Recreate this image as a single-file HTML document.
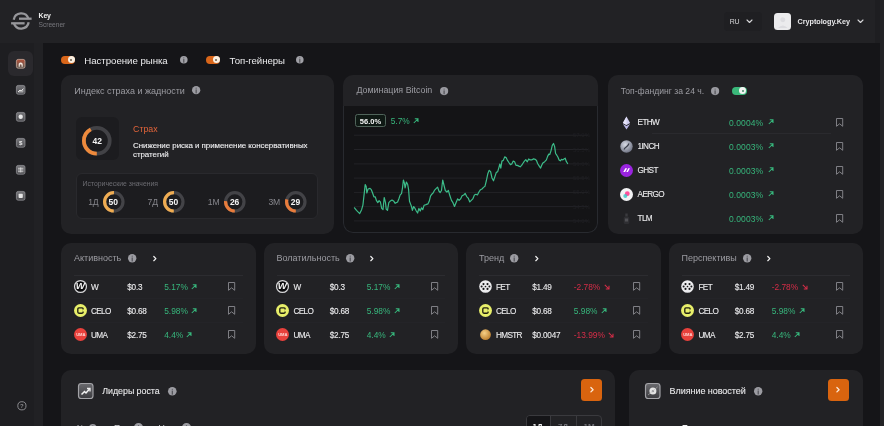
<!DOCTYPE html><html><head><meta charset="utf-8"><style>html,body{margin:0;padding:0;width:884px;height:426px;overflow:hidden;background:#151518;}body{position:relative;font-family:"Liberation Sans", "DejaVu Sans", sans-serif;}.t{position:absolute;white-space:nowrap;line-height:1;}.m{-webkit-text-stroke:0.1px currentColor;}svg{overflow:visible}</style></head><body>
<div style="position:absolute;left:0.00px;top:0.00px;width:884.00px;height:43.00px;background:#222225"></div>
<div style="position:absolute;left:0.00px;top:43.00px;width:43.30px;height:383.00px;background:#1e1e21"></div>
<div style="position:absolute;left:33.80px;top:43.00px;width:9.50px;height:383.00px;background:#212124"></div>
<div style="position:absolute;left:874.60px;top:0.00px;width:5.00px;height:43.00px;background:#1e1e21"></div>
<div style="position:absolute;left:879.50px;top:0.00px;width:4.50px;height:426.00px;background:#232326"></div>
<svg style="position:absolute;left:10.00px;top:10.00px;" width="24" height="24" viewBox="0 0 24 24"><g fill="none" stroke="#97979b" stroke-width="2.3" stroke-linecap="butt"><path d="M3.72 9.68 A7.6 7.6 0 0 1 18.43 8.65"/><path d="M9.0 8.7 H21.6"/><path d="M18.68 12.32 A7.6 7.6 0 0 1 3.97 13.35"/><path d="M1.1 13.3 H14.6"/></g></svg>
<div class="t" style="left:38.50px;top:13.05px;font-size:6.9px;color:#f0f0f0;font-weight:700;letter-spacing:-0.1px;">Key</div>
<div class="t" style="left:38.50px;top:21.85px;font-size:6.7px;color:#76767c;font-weight:400;letter-spacing:-0.05px;">Screener</div>
<div style="position:absolute;left:723.50px;top:12.00px;width:38.50px;height:19.40px;background:#1f1f22;border-radius:4px"></div>
<div class="t" style="left:729.70px;top:18.10px;font-size:7px;color:#d6d6d8;font-weight:400;letter-spacing:-0.35px;">RU</div>
<svg style="position:absolute;left:745.50px;top:18.55px;" width="7" height="4.5" viewBox="0 0 7 4.5"><path d="M1 1 L3.5 3.5 L6 1" fill="none" stroke="#d6d6d8" stroke-width="1.1" stroke-linecap="round" stroke-linejoin="round"/></svg>
<div style="position:absolute;left:773.70px;top:12.50px;width:17.60px;height:17.60px;background:#ebebed;border-radius:3.5px"></div>
<svg style="position:absolute;left:773.70px;top:12.50px;" width="17.6" height="17.6" viewBox="0 0 17.6 17.6"><circle cx="8.8" cy="6.8" r="2.5" fill="#dcdce0"/><path d="M4 15 Q8.8 10 13.6 15 Z" fill="#dcdce0"/></svg>
<div class="t" style="left:797.60px;top:18.18px;font-size:7.25px;color:#e6e6e8;font-weight:700;letter-spacing:-0.05px;">Cryptology.Key</div>
<svg style="position:absolute;left:856.50px;top:18.55px;" width="7" height="4.5" viewBox="0 0 7 4.5"><path d="M1 1 L3.5 3.5 L6 1" fill="none" stroke="#d6d6d8" stroke-width="1.1" stroke-linecap="round" stroke-linejoin="round"/></svg>
<div style="position:absolute;left:8.10px;top:51.20px;width:24.80px;height:25.00px;background:#2a292d;border-radius:6px"></div>
<svg style="position:absolute;left:16.40px;top:58.90px;" width="9.4" height="9.6" viewBox="0 0 9.4 9.6"><defs><linearGradient id="g63" x1="0" y1="0" x2="0" y2="1"><stop offset="0" stop-color="#b4523a"/><stop offset="1" stop-color="#5c5a54"/></linearGradient></defs><rect x="0.4" y="0.4" width="8.6" height="8.8" rx="1.8" fill="url(#g63)" stroke="#d8b8a8" stroke-width="0.7"/><path d="M2.7 7.8 V4.8 Q4.7 2.4 6.7 4.8 V7.8 H5.6 V5.8 Q4.7 4.6 3.8 5.8 V7.8 Z" fill="#f4ece4"/></svg>
<svg style="position:absolute;left:16.40px;top:85.20px;" width="9.4" height="9.6" viewBox="0 0 9.4 9.6"><defs><linearGradient id="g90" x1="0" y1="0" x2="0" y2="1"><stop offset="0" stop-color="#77777b"/><stop offset="1" stop-color="#4c4c50"/></linearGradient></defs><rect x="0.4" y="0.4" width="8.6" height="8.8" rx="1.8" fill="url(#g90)" stroke="#9a9a9e" stroke-width="0.7"/><path d="M2 7 L4 5 L5.2 6 L7.4 3.6" fill="none" stroke="#eee" stroke-width="1"/><path d="M2 7.6 L4 5.6 L5.2 6.6 L7.4 4.2 V7.6 Z" fill="#ddd" opacity="0.6"/></svg>
<svg style="position:absolute;left:16.40px;top:111.70px;" width="9.4" height="9.6" viewBox="0 0 9.4 9.6"><defs><linearGradient id="g116" x1="0" y1="0" x2="0" y2="1"><stop offset="0" stop-color="#77777b"/><stop offset="1" stop-color="#4c4c50"/></linearGradient></defs><rect x="0.4" y="0.4" width="8.6" height="8.8" rx="1.8" fill="url(#g116)" stroke="#9a9a9e" stroke-width="0.7"/><circle cx="4.7" cy="4.8" r="2.2" fill="#e6e6e6"/></svg>
<svg style="position:absolute;left:16.40px;top:138.20px;" width="9.4" height="9.6" viewBox="0 0 9.4 9.6"><defs><linearGradient id="g143" x1="0" y1="0" x2="0" y2="1"><stop offset="0" stop-color="#77777b"/><stop offset="1" stop-color="#4c4c50"/></linearGradient></defs><rect x="0.4" y="0.4" width="8.6" height="8.8" rx="1.8" fill="url(#g143)" stroke="#9a9a9e" stroke-width="0.7"/><text x="4.7" y="7.4" text-anchor="middle" font-family="Liberation Sans" font-weight="700" font-size="6.2" fill="#eee">$</text></svg>
<svg style="position:absolute;left:16.40px;top:164.70px;" width="9.4" height="9.6" viewBox="0 0 9.4 9.6"><defs><linearGradient id="g169" x1="0" y1="0" x2="0" y2="1"><stop offset="0" stop-color="#77777b"/><stop offset="1" stop-color="#4c4c50"/></linearGradient></defs><rect x="0.4" y="0.4" width="8.6" height="8.8" rx="1.8" fill="url(#g169)" stroke="#9a9a9e" stroke-width="0.7"/><path d="M2 3.3 H7.4 M2 5 H7.4 M2 6.7 H7.4 M4.7 2.4 V7.4" stroke="#e0e0e0" stroke-width="0.8"/></svg>
<svg style="position:absolute;left:16.40px;top:191.20px;" width="9.4" height="9.6" viewBox="0 0 9.4 9.6"><defs><linearGradient id="g196" x1="0" y1="0" x2="0" y2="1"><stop offset="0" stop-color="#77777b"/><stop offset="1" stop-color="#4c4c50"/></linearGradient></defs><rect x="0.4" y="0.4" width="8.6" height="8.8" rx="1.8" fill="url(#g196)" stroke="#9a9a9e" stroke-width="0.7"/><rect x="2.6" y="2.8" width="4.2" height="4.2" rx="0.8" fill="#e6e6e6"/></svg>
<svg style="position:absolute;left:16.50px;top:401.40px;" width="10" height="10" viewBox="0 0 10 10"><circle cx="4.9" cy="4.8" r="4.1" fill="none" stroke="#8a8a8e" stroke-width="1"/><text x="4.9" y="7" text-anchor="middle" font-family="Liberation Sans" font-weight="700" font-size="6" fill="#8a8a8e">?</text></svg>
<div style="position:absolute;left:60.80px;top:55.90px;width:14.30px;height:7.80px;background:#d9661a;border-radius:3.9px"></div>
<div style="position:absolute;left:67.55px;top:56.15px;width:7.30px;height:7.30px;background:#f8efe2;border-radius:50%"></div>
<div style="position:absolute;left:70.10px;top:58.70px;width:2.20px;height:2.20px;background:#6a5a48;border-radius:50%"></div>
<div class="t" style="left:84.30px;top:55.55px;font-size:9.7px;color:#ececee;font-weight:400;letter-spacing:-0.05px;">Настроение рынка</div>
<svg style="position:absolute;left:178.80px;top:54.60px;" width="9.6" height="9.6" viewBox="0 0 9.6 9.6"><circle cx="4.8" cy="4.8" r="3.8" fill="#a0a0a6"/><rect x="4.25" y="4.1" width="1.1" height="3.61" fill="#4a4a50"/><circle cx="4.8" cy="2.8" r="0.6" fill="#5a5a60"/></svg>
<div style="position:absolute;left:205.90px;top:55.90px;width:14.30px;height:7.80px;background:#d9661a;border-radius:3.9px"></div>
<div style="position:absolute;left:212.65px;top:56.15px;width:7.30px;height:7.30px;background:#f8efe2;border-radius:50%"></div>
<div style="position:absolute;left:215.20px;top:58.70px;width:2.20px;height:2.20px;background:#6a5a48;border-radius:50%"></div>
<div class="t" style="left:229.60px;top:55.58px;font-size:9.65px;color:#ececee;font-weight:400;letter-spacing:-0.05px;">Топ-гейнеры</div>
<svg style="position:absolute;left:295.00px;top:54.60px;" width="9.6" height="9.6" viewBox="0 0 9.6 9.6"><circle cx="4.8" cy="4.8" r="3.8" fill="#a0a0a6"/><rect x="4.25" y="4.1" width="1.1" height="3.61" fill="#4a4a50"/><circle cx="4.8" cy="2.8" r="0.6" fill="#5a5a60"/></svg>
<div style="position:absolute;left:61.00px;top:75.00px;width:272.60px;height:158.50px;background:#222225;border-radius:10px"></div>
<div class="t" style="left:74.20px;top:86.60px;font-size:9px;color:#9c9ca2;font-weight:400;letter-spacing:0px;">Индекс страха и жадности</div>
<svg style="position:absolute;left:190.65px;top:85.35px;" width="10.3" height="10.3" viewBox="0 0 10.3 10.3"><circle cx="5.15" cy="5.15" r="4.15" fill="#9c9ca2"/><rect x="4.6000000000000005" y="4.45" width="1.1" height="3.94" fill="#4a4a50"/><circle cx="5.15" cy="3.1500000000000004" r="0.6" fill="#5a5a60"/></svg>
<div style="position:absolute;left:76.00px;top:117.30px;width:43.40px;height:42.70px;background:#1c1c1f;border-radius:6px"></div>
<svg style="position:absolute;left:81.40px;top:125.20px;" width="31.6" height="31.6" viewBox="0 0 31.6 31.6"><circle cx="15.8" cy="15.8" r="12.9" fill="none" stroke="#424246" stroke-width="3.8"/><circle cx="15.8" cy="15.8" r="12.9" fill="none" stroke="#ee8a3c" stroke-width="3.8" stroke-dasharray="34.04 81.05" transform="rotate(90 15.8 15.8)"/></svg>
<div class="t" style="left:92.45px;top:136.95px;font-size:8.5px;color:#f4f4f4;font-weight:700;letter-spacing:0px;">42</div>
<div class="t" style="left:133.10px;top:125.20px;font-size:8.8px;color:#e2643a;font-weight:400;letter-spacing:0px;">Страх</div>
<div class="t m" style="left:133.00px;top:141.62px;font-size:7.95px;color:#f0f0f2;font-weight:400;letter-spacing:-0.05px;">Снижение риска и применение консервативных</div>
<div class="t m" style="left:133.00px;top:151.03px;font-size:7.95px;color:#f0f0f2;font-weight:400;letter-spacing:-0.05px;">стратегий</div>
<div style="position:absolute;left:75.80px;top:172.90px;width:242.40px;height:46.00px;background:#1c1c1f;border:1px solid #29292d;border-radius:6px;box-sizing:border-box"></div>
<div class="t" style="left:82.60px;top:181.38px;font-size:6.85px;color:#6c6c72;font-weight:400;letter-spacing:0px;">Исторические значения</div>
<div class="t" style="left:88.20px;top:198.30px;font-size:8.6px;color:#86868c;font-weight:400;letter-spacing:-0.2px;">1Д</div>
<svg style="position:absolute;left:101.50px;top:190.00px;" width="23.599999999999998" height="23.599999999999998" viewBox="0 0 23.599999999999998 23.599999999999998"><circle cx="11.799999999999999" cy="11.799999999999999" r="9.2" fill="none" stroke="#434347" stroke-width="3.2"/><circle cx="11.799999999999999" cy="11.799999999999999" r="9.2" fill="none" stroke="#efac52" stroke-width="3.2" stroke-dasharray="28.90 57.81" transform="rotate(90 11.799999999999999 11.799999999999999)"/></svg>
<div class="t" style="left:108.60px;top:197.55px;font-size:8.5px;color:#f4f4f4;font-weight:700;letter-spacing:0px;">50</div>
<div class="t" style="left:147.60px;top:198.30px;font-size:8.6px;color:#86868c;font-weight:400;letter-spacing:-0.2px;">7Д</div>
<svg style="position:absolute;left:161.70px;top:190.00px;" width="23.599999999999998" height="23.599999999999998" viewBox="0 0 23.599999999999998 23.599999999999998"><circle cx="11.799999999999999" cy="11.799999999999999" r="9.2" fill="none" stroke="#434347" stroke-width="3.2"/><circle cx="11.799999999999999" cy="11.799999999999999" r="9.2" fill="none" stroke="#efac52" stroke-width="3.2" stroke-dasharray="28.90 57.81" transform="rotate(90 11.799999999999999 11.799999999999999)"/></svg>
<div class="t" style="left:168.80px;top:197.55px;font-size:8.5px;color:#f4f4f4;font-weight:700;letter-spacing:0px;">50</div>
<div class="t" style="left:207.80px;top:198.30px;font-size:8.6px;color:#86868c;font-weight:400;letter-spacing:-0.2px;">1M</div>
<svg style="position:absolute;left:222.80px;top:190.00px;" width="23.599999999999998" height="23.599999999999998" viewBox="0 0 23.599999999999998 23.599999999999998"><circle cx="11.799999999999999" cy="11.799999999999999" r="9.2" fill="none" stroke="#434347" stroke-width="3.2"/><circle cx="11.799999999999999" cy="11.799999999999999" r="9.2" fill="none" stroke="#e87c3c" stroke-width="3.2" stroke-dasharray="15.03 57.81" transform="rotate(90 11.799999999999999 11.799999999999999)"/></svg>
<div class="t" style="left:229.90px;top:197.55px;font-size:8.5px;color:#f4f4f4;font-weight:700;letter-spacing:0px;">26</div>
<div class="t" style="left:268.40px;top:198.30px;font-size:8.6px;color:#86868c;font-weight:400;letter-spacing:-0.2px;">3M</div>
<svg style="position:absolute;left:283.70px;top:190.00px;" width="23.599999999999998" height="23.599999999999998" viewBox="0 0 23.599999999999998 23.599999999999998"><circle cx="11.799999999999999" cy="11.799999999999999" r="9.2" fill="none" stroke="#434347" stroke-width="3.2"/><circle cx="11.799999999999999" cy="11.799999999999999" r="9.2" fill="none" stroke="#e87c3c" stroke-width="3.2" stroke-dasharray="16.76 57.81" transform="rotate(90 11.799999999999999 11.799999999999999)"/></svg>
<div class="t" style="left:290.80px;top:197.55px;font-size:8.5px;color:#f4f4f4;font-weight:700;letter-spacing:0px;">29</div>
<div style="position:absolute;left:342.5px;top:75px;width:255.5px;height:158.5px;border-radius:10px;overflow:hidden">
<div style="position:absolute;left:0;top:0;width:100%;height:30.6px;background:#222225"></div>
<div style="position:absolute;left:0;top:30.6px;width:100%;height:127.9px;background:#141416;border:1px solid #282a2f;border-top:none;border-radius:0 0 10px 10px;box-sizing:border-box"></div>
</div>
<div class="t" style="left:356.40px;top:86.45px;font-size:8.9px;color:#9c9ca2;font-weight:400;letter-spacing:0px;">Доминация Bitcoin</div>
<svg style="position:absolute;left:438.80px;top:85.50px;" width="10.2" height="10.2" viewBox="0 0 10.2 10.2"><circle cx="5.1" cy="5.1" r="4.1" fill="#9c9ca2"/><rect x="4.55" y="4.3999999999999995" width="1.1" height="3.89" fill="#4a4a50"/><circle cx="5.1" cy="3.0999999999999996" r="0.6" fill="#5a5a60"/></svg>
<div style="position:absolute;left:355.00px;top:114.30px;width:30.70px;height:12.70px;background:#0f1914;border:1px solid #50645a;border-radius:2.5px;box-sizing:border-box"></div>
<div class="t" style="left:359.80px;top:117.55px;font-size:7.5px;color:#f4f4f4;font-weight:700;letter-spacing:0px;">56.0%</div>
<div class="t" style="left:390.70px;top:116.62px;font-size:8.35px;color:#37b67c;font-weight:400;letter-spacing:0px;">5.7%</div>
<svg style="position:absolute;left:412.90px;top:117.60px;" width="5.8" height="5.8" viewBox="0 0 5.8 5.8"><path d="M0.8 5.0 L5.0 0.8 M1.8 0.8 H5.0 V4.0" fill="none" stroke="#37b67c" stroke-width="1.05"/></svg>
<svg style="position:absolute;left:0;top:0" width="884" height="426" viewBox="0 0 884 426"><line x1="354" y1="135.2" x2="588" y2="135.2" stroke="#232327" stroke-width="1"/><line x1="354" y1="149.5" x2="588" y2="149.5" stroke="#232327" stroke-width="1"/><line x1="354" y1="163.9" x2="588" y2="163.9" stroke="#232327" stroke-width="1"/><line x1="354" y1="178.1" x2="588" y2="178.1" stroke="#232327" stroke-width="1"/><line x1="354" y1="192.4" x2="588" y2="192.4" stroke="#232327" stroke-width="1"/><line x1="354" y1="206.6" x2="588" y2="206.6" stroke="#232327" stroke-width="1"/><line x1="354" y1="220.9" x2="588" y2="220.9" stroke="#232327" stroke-width="1"/><text x="573" y="137.2" font-family="Liberation Sans" font-size="6" fill="#1f1f23">57.0%</text><text x="573" y="151.5" font-family="Liberation Sans" font-size="6" fill="#1f1f23">56.5%</text><text x="573" y="165.9" font-family="Liberation Sans" font-size="6" fill="#1f1f23">56.0%</text><text x="573" y="180.1" font-family="Liberation Sans" font-size="6" fill="#1f1f23">55.5%</text><text x="573" y="194.4" font-family="Liberation Sans" font-size="6" fill="#1f1f23">55.0%</text><text x="573" y="208.6" font-family="Liberation Sans" font-size="6" fill="#1f1f23">54.5%</text><text x="573" y="222.9" font-family="Liberation Sans" font-size="6" fill="#1f1f23">54.0%</text><path d="M354.5 207.8 L356.5 210.4 L359.7 213.6 L361.6 209.7 L362.9 205.2 L364.2 193.6 L365.2 184.5 L366.2 186.5 L366.8 193.0 L368.1 189.0 L370.0 188.4 L371.3 189.7 L372.6 193.0 L373.9 196.8 L375.2 196.8 L376.5 200.7 L377.8 202.6 L379.1 200.7 L380.4 202.0 L381.7 208.4 L383.0 209.7 L384.2 197.5 L385.5 202.6 L386.2 209.1 L387.5 210.4 L388.8 202.6 L390.0 201.3 L392.0 200.0 L393.9 201.3 L395.2 203.3 L397.6 202.0 L398.9 198.8 L400.2 194.9 L401.5 193.6 L402.5 187.8 L403.4 180.0 L404.3 182.6 L405.1 187.8 L406.4 182.0 L407.7 184.5 L408.6 189.7 L409.5 201.3 L410.5 203.9 L411.5 206.5 L412.4 210.4 L413.7 206.5 L415.0 208.4 L416.3 211.0 L417.6 213.0 L418.9 208.4 L420.2 211.0 L421.5 207.8 L422.8 209.7 L424.1 205.2 L426.0 204.6 L427.9 203.9 L429.2 201.3 L430.5 196.2 L431.8 194.2 L433.1 193.0 L434.4 190.4 L436.3 188.4 L437.6 187.1 L438.9 191.0 L440.2 192.5 L441.5 190.5 L442.7 180.0 L443.8 184.5 L445.3 190.5 L446.9 192.0 L448.4 190.5 L449.9 195.8 L451.5 200.4 L453.0 202.7 L454.5 206.5 L456.0 202.7 L457.6 198.9 L459.1 200.4 L460.6 198.9 L462.1 195.8 L463.7 195.0 L465.2 193.5 L466.7 196.6 L468.2 198.1 L469.8 201.9 L471.3 200.4 L472.8 198.9 L474.4 195.0 L475.9 194.3 L477.4 195.0 L478.9 192.0 L480.5 189.7 L482.0 189.0 L483.5 187.4 L485.0 186.2 L486.4 180.5 L487.8 173.8 L489.2 170.3 L490.6 171.7 L492.0 178.0 L493.5 180.8 L494.9 176.6 L496.3 172.4 L497.7 171.7 L499.1 166.8 L499.8 164.0 L500.8 168.2 L501.9 161.1 L503.3 160.4 L504.7 156.9 L506.1 157.6 L507.5 160.4 L508.9 162.5 L510.4 164.6 L511.8 163.9 L513.2 161.1 L514.6 161.8 L516.0 165.4 L517.4 165.4 L518.8 166.1 L520.2 166.8 L521.6 165.4 L523.0 163.2 L524.4 161.1 L525.8 159.7 L527.3 161.8 L528.7 159.0 L530.1 159.9 L531.8 159.9 L533.5 158.8 L535.3 159.3 L536.5 160.5 L537.6 163.5 L539.4 166.4 L540.6 168.1 L541.7 165.2 L542.9 162.9 L544.7 161.7 L546.4 159.9 L547.6 156.4 L548.8 154.1 L549.7 154.6 L550.9 151.1 L552.3 145.3 L553.5 143.5 L554.6 146.4 L555.6 153.5 L556.8 155.2 L557.9 157.0 L559.1 159.9 L560.3 160.8 L561.5 159.3 L562.9 159.9 L564.3 158.8 L565.2 158.2 L566.4 161.7 L567.6 163.5" fill="none" stroke="#3cbc89" stroke-width="1.2" stroke-linejoin="round" stroke-linecap="round"/></svg>
<div style="position:absolute;left:607.50px;top:75.00px;width:255.50px;height:158.50px;background:#222225;border-radius:10px"></div>
<div class="t" style="left:620.70px;top:86.70px;font-size:8.6px;color:#9c9ca2;font-weight:400;letter-spacing:0px;">Топ-фандинг за 24 ч.</div>
<svg style="position:absolute;left:710.00px;top:85.50px;" width="10.2" height="10.2" viewBox="0 0 10.2 10.2"><circle cx="5.1" cy="5.1" r="4.1" fill="#9c9ca2"/><rect x="4.55" y="4.3999999999999995" width="1.1" height="3.89" fill="#4a4a50"/><circle cx="5.1" cy="3.0999999999999996" r="0.6" fill="#5a5a60"/></svg>
<div style="position:absolute;left:732.40px;top:86.90px;width:14.30px;height:7.80px;background:#3ab87a;border-radius:3.9px"></div>
<div style="position:absolute;left:739.15px;top:87.15px;width:7.30px;height:7.30px;background:#f2f4f2;border-radius:50%"></div>
<div style="position:absolute;left:741.70px;top:89.70px;width:2.20px;height:2.20px;background:#4a8a6a;border-radius:50%"></div>
<div style="position:absolute;left:652.00px;top:133.00px;width:179.00px;height:1.00px;background:#2a2a2e"></div>
<svg style="position:absolute;left:620.20px;top:115.90px;" width="13" height="14" viewBox="0 0 13 14"><path d="M6.5 0.5 L10.1 7.1 L6.5 9.1 L2.9 7.1 Z" fill="#cfcdee"/><path d="M6.5 10.1 L10.1 8.1 L6.5 13.5 L2.9 8.1 Z" fill="#b9b6e6"/><path d="M6.5 0.5 L6.5 9.1 L2.9 7.1 Z" fill="#e6e4fa"/></svg>
<div class="t m" style="left:637.60px;top:119.30px;font-size:8.2px;color:#ececee;font-weight:400;letter-spacing:-0.65px;">ETHW</div>
<div class="t" style="left:729.00px;top:118.65px;font-size:8.5px;color:#37b67c;font-weight:400;letter-spacing:0.1px;">0.0004%</div>
<svg style="position:absolute;left:767.90px;top:119.40px;" width="5.8" height="5.8" viewBox="0 0 5.8 5.8"><path d="M0.8 5.0 L5.0 0.8 M1.8 0.8 H5.0 V4.0" fill="none" stroke="#37b67c" stroke-width="1.05"/></svg>
<svg style="position:absolute;left:835.00px;top:117.20px;" width="9.2" height="10.8" viewBox="0 0 9.2 10.8"><path d="M1.5 1.5 H7.7 V9.3 L4.6 6.808000000000001 L1.5 9.3 Z" fill="none" stroke="#85858b" stroke-width="0.95" stroke-linejoin="round"/></svg>
<svg style="position:absolute;left:620.20px;top:139.90px;" width="13" height="13" viewBox="0 0 13 13"><defs><radialGradient id="ig" cx="40%" cy="35%" r="70%"><stop offset="0" stop-color="#d8dce6"/><stop offset="1" stop-color="#6c7080"/></radialGradient></defs><circle cx="6.5" cy="6.5" r="6.2" fill="url(#ig)"/><path d="M4.0 9.5 C5.5 6.5 7.5 7.5 9.0 3.5" stroke="#3a3e4a" stroke-width="1.2" fill="none"/></svg>
<div class="t m" style="left:637.60px;top:143.30px;font-size:8.2px;color:#ececee;font-weight:400;letter-spacing:-0.65px;">1INCH</div>
<div class="t" style="left:729.00px;top:142.65px;font-size:8.5px;color:#37b67c;font-weight:400;letter-spacing:0.1px;">0.0003%</div>
<svg style="position:absolute;left:767.90px;top:143.40px;" width="5.8" height="5.8" viewBox="0 0 5.8 5.8"><path d="M0.8 5.0 L5.0 0.8 M1.8 0.8 H5.0 V4.0" fill="none" stroke="#37b67c" stroke-width="1.05"/></svg>
<svg style="position:absolute;left:835.00px;top:141.20px;" width="9.2" height="10.8" viewBox="0 0 9.2 10.8"><path d="M1.5 1.5 H7.7 V9.3 L4.6 6.808000000000001 L1.5 9.3 Z" fill="none" stroke="#85858b" stroke-width="0.95" stroke-linejoin="round"/></svg>
<svg style="position:absolute;left:620.20px;top:163.90px;" width="13" height="13" viewBox="0 0 13 13"><circle cx="6.5" cy="6.5" r="6.5" fill="#9a24e0"/><path d="M3.3 8.0 L5.3 4.3 H7.1 L5.1 8.0 Z M6.3 8.0 L8.3 4.3 H9.9 L7.9 8.0 Z" fill="#fff"/></svg>
<div class="t m" style="left:637.60px;top:167.30px;font-size:8.2px;color:#ececee;font-weight:400;letter-spacing:-0.65px;">GHST</div>
<div class="t" style="left:729.00px;top:166.65px;font-size:8.5px;color:#37b67c;font-weight:400;letter-spacing:0.1px;">0.0003%</div>
<svg style="position:absolute;left:767.90px;top:167.40px;" width="5.8" height="5.8" viewBox="0 0 5.8 5.8"><path d="M0.8 5.0 L5.0 0.8 M1.8 0.8 H5.0 V4.0" fill="none" stroke="#37b67c" stroke-width="1.05"/></svg>
<svg style="position:absolute;left:835.00px;top:165.20px;" width="9.2" height="10.8" viewBox="0 0 9.2 10.8"><path d="M1.5 1.5 H7.7 V9.3 L4.6 6.808000000000001 L1.5 9.3 Z" fill="none" stroke="#85858b" stroke-width="0.95" stroke-linejoin="round"/></svg>
<svg style="position:absolute;left:620.20px;top:187.90px;" width="13" height="13" viewBox="0 0 13 13"><circle cx="6.5" cy="6.5" r="6.5" fill="#f2f2f4"/><circle cx="7.3" cy="5.7" r="2.4" fill="#ff4f9a"/><circle cx="5.3" cy="7.9" r="2" fill="#31c4c4" opacity="0.8"/></svg>
<div class="t m" style="left:637.60px;top:191.30px;font-size:8.2px;color:#ececee;font-weight:400;letter-spacing:-0.65px;">AERGO</div>
<div class="t" style="left:729.00px;top:190.65px;font-size:8.5px;color:#37b67c;font-weight:400;letter-spacing:0.1px;">0.0003%</div>
<svg style="position:absolute;left:767.90px;top:191.40px;" width="5.8" height="5.8" viewBox="0 0 5.8 5.8"><path d="M0.8 5.0 L5.0 0.8 M1.8 0.8 H5.0 V4.0" fill="none" stroke="#37b67c" stroke-width="1.05"/></svg>
<svg style="position:absolute;left:835.00px;top:189.20px;" width="9.2" height="10.8" viewBox="0 0 9.2 10.8"><path d="M1.5 1.5 H7.7 V9.3 L4.6 6.808000000000001 L1.5 9.3 Z" fill="none" stroke="#85858b" stroke-width="0.95" stroke-linejoin="round"/></svg>
<svg style="position:absolute;left:620.20px;top:211.90px;" width="13" height="13" viewBox="0 0 13 13"><rect x="5.3" y="1.5" width="2.4" height="3" fill="#3a3a3e"/><rect x="3.7" y="4.5" width="5.6" height="7.5" rx="1.5" fill="#2e2e32"/><rect x="4.9" y="6.5" width="3.2" height="3" fill="#505055"/></svg>
<div class="t m" style="left:637.60px;top:215.30px;font-size:8.2px;color:#ececee;font-weight:400;letter-spacing:-0.65px;">TLM</div>
<div class="t" style="left:729.00px;top:214.65px;font-size:8.5px;color:#37b67c;font-weight:400;letter-spacing:0.1px;">0.0003%</div>
<svg style="position:absolute;left:767.90px;top:215.40px;" width="5.8" height="5.8" viewBox="0 0 5.8 5.8"><path d="M0.8 5.0 L5.0 0.8 M1.8 0.8 H5.0 V4.0" fill="none" stroke="#37b67c" stroke-width="1.05"/></svg>
<svg style="position:absolute;left:835.00px;top:213.20px;" width="9.2" height="10.8" viewBox="0 0 9.2 10.8"><path d="M1.5 1.5 H7.7 V9.3 L4.6 6.808000000000001 L1.5 9.3 Z" fill="none" stroke="#85858b" stroke-width="0.95" stroke-linejoin="round"/></svg>
<div style="position:absolute;left:61.00px;top:242.50px;width:194.50px;height:111.00px;background:#222225;border-radius:10px"></div>
<div class="t" style="left:74.00px;top:254.20px;font-size:9px;color:#9c9ca2;font-weight:400;letter-spacing:0px;">Активность</div>
<svg style="position:absolute;left:127.10px;top:253.20px;" width="10.4" height="10.4" viewBox="0 0 10.4 10.4"><circle cx="5.2" cy="5.2" r="4.2" fill="#9c9ca2"/><rect x="4.65" y="4.5" width="1.1" height="3.99" fill="#4a4a50"/><circle cx="5.2" cy="3.2" r="0.6" fill="#5a5a60"/></svg>
<svg style="position:absolute;left:151.50px;top:254.70px;" width="6.2" height="7.2" viewBox="0 0 6.2 7.2"><path d="M1.8 1.5 L3.9000000000000004 3.6 L1.8 5.7" fill="none" stroke="#f0f0f0" stroke-width="1.25" stroke-linecap="round" stroke-linejoin="round"/></svg>
<div style="position:absolute;left:74.00px;top:275.00px;width:168.50px;height:0.80px;background:#2c2c30"></div>
<svg style="position:absolute;left:73.70px;top:279.90px;" width="13" height="13" viewBox="0 0 13 13"><circle cx="6.5" cy="6.5" r="5.95" fill="#0a0a0c" stroke="#d8d8da" stroke-width="1.25"/><text x="6.4" y="9.4" text-anchor="middle" font-family="Liberation Sans" font-weight="700" font-style="italic" font-size="8.6" fill="#f6f6f6" transform="scale(1.12 1) translate(-0.8 0)">W</text></svg>
<div class="t m" style="left:91.00px;top:283.50px;font-size:8.2px;color:#ececee;font-weight:400;letter-spacing:-0.65px;">W</div>
<div class="t m" style="left:127.20px;top:283.50px;font-size:8.2px;color:#ececee;font-weight:400;letter-spacing:-0.2px;">$0.3</div>
<div class="t" style="left:164.20px;top:282.93px;font-size:8.35px;color:#37b67c;font-weight:400;letter-spacing:0px;">5.17%</div>
<svg style="position:absolute;left:191.20px;top:283.90px;" width="5.8" height="5.8" viewBox="0 0 5.8 5.8"><path d="M0.8 5.0 L5.0 0.8 M1.8 0.8 H5.0 V4.0" fill="none" stroke="#37b67c" stroke-width="1.05"/></svg>
<svg style="position:absolute;left:227.00px;top:281.40px;" width="9.2" height="10.8" viewBox="0 0 9.2 10.8"><path d="M1.5 1.5 H7.7 V9.3 L4.6 6.808000000000001 L1.5 9.3 Z" fill="none" stroke="#85858b" stroke-width="0.95" stroke-linejoin="round"/></svg>
<div style="position:absolute;left:74.00px;top:298.20px;width:168.50px;height:0.70px;background:#242428"></div>
<svg style="position:absolute;left:73.70px;top:303.90px;" width="13" height="13" viewBox="0 0 13 13"><circle cx="6.5" cy="6.5" r="6.5" fill="#e8ef6a"/><rect x="3.8" y="3.8" width="5.4" height="5.4" rx="1.1" fill="none" stroke="#202012" stroke-width="1.35"/><rect x="8.3" y="5.4" width="1.8" height="2.2" fill="#e8ef6a"/></svg>
<div class="t m" style="left:91.00px;top:307.50px;font-size:8.2px;color:#ececee;font-weight:400;letter-spacing:-0.65px;">CELO</div>
<div class="t m" style="left:127.20px;top:307.50px;font-size:8.2px;color:#ececee;font-weight:400;letter-spacing:-0.2px;">$0.68</div>
<div class="t" style="left:164.20px;top:306.93px;font-size:8.35px;color:#37b67c;font-weight:400;letter-spacing:0px;">5.98%</div>
<svg style="position:absolute;left:191.20px;top:307.90px;" width="5.8" height="5.8" viewBox="0 0 5.8 5.8"><path d="M0.8 5.0 L5.0 0.8 M1.8 0.8 H5.0 V4.0" fill="none" stroke="#37b67c" stroke-width="1.05"/></svg>
<svg style="position:absolute;left:227.00px;top:305.40px;" width="9.2" height="10.8" viewBox="0 0 9.2 10.8"><path d="M1.5 1.5 H7.7 V9.3 L4.6 6.808000000000001 L1.5 9.3 Z" fill="none" stroke="#85858b" stroke-width="0.95" stroke-linejoin="round"/></svg>
<div style="position:absolute;left:74.00px;top:322.20px;width:168.50px;height:0.70px;background:#242428"></div>
<svg style="position:absolute;left:73.70px;top:327.90px;" width="13" height="13" viewBox="0 0 13 13"><circle cx="6.5" cy="6.5" r="6.5" fill="#e8413c"/><text x="6.5" y="7.8" text-anchor="middle" font-family="Liberation Sans" font-weight="700" font-size="3.9" fill="#ffd8d4" transform="scale(1.05 1)">UMA</text></svg>
<div class="t m" style="left:91.00px;top:331.50px;font-size:8.2px;color:#ececee;font-weight:400;letter-spacing:-0.65px;">UMA</div>
<div class="t m" style="left:127.20px;top:331.50px;font-size:8.2px;color:#ececee;font-weight:400;letter-spacing:-0.2px;">$2.75</div>
<div class="t" style="left:164.20px;top:330.93px;font-size:8.35px;color:#37b67c;font-weight:400;letter-spacing:0px;">4.4%</div>
<svg style="position:absolute;left:186.40px;top:331.90px;" width="5.8" height="5.8" viewBox="0 0 5.8 5.8"><path d="M0.8 5.0 L5.0 0.8 M1.8 0.8 H5.0 V4.0" fill="none" stroke="#37b67c" stroke-width="1.05"/></svg>
<svg style="position:absolute;left:227.00px;top:329.40px;" width="9.2" height="10.8" viewBox="0 0 9.2 10.8"><path d="M1.5 1.5 H7.7 V9.3 L4.6 6.808000000000001 L1.5 9.3 Z" fill="none" stroke="#85858b" stroke-width="0.95" stroke-linejoin="round"/></svg>
<div style="position:absolute;left:263.50px;top:242.50px;width:194.50px;height:111.00px;background:#222225;border-radius:10px"></div>
<div class="t" style="left:276.50px;top:254.20px;font-size:9px;color:#9c9ca2;font-weight:400;letter-spacing:0px;">Волатильность</div>
<svg style="position:absolute;left:344.90px;top:253.20px;" width="10.4" height="10.4" viewBox="0 0 10.4 10.4"><circle cx="5.2" cy="5.2" r="4.2" fill="#9c9ca2"/><rect x="4.65" y="4.5" width="1.1" height="3.99" fill="#4a4a50"/><circle cx="5.2" cy="3.2" r="0.6" fill="#5a5a60"/></svg>
<svg style="position:absolute;left:369.30px;top:254.70px;" width="6.2" height="7.2" viewBox="0 0 6.2 7.2"><path d="M1.8 1.5 L3.9000000000000004 3.6 L1.8 5.7" fill="none" stroke="#f0f0f0" stroke-width="1.25" stroke-linecap="round" stroke-linejoin="round"/></svg>
<div style="position:absolute;left:276.50px;top:275.00px;width:168.50px;height:0.80px;background:#2c2c30"></div>
<svg style="position:absolute;left:276.20px;top:279.90px;" width="13" height="13" viewBox="0 0 13 13"><circle cx="6.5" cy="6.5" r="5.95" fill="#0a0a0c" stroke="#d8d8da" stroke-width="1.25"/><text x="6.4" y="9.4" text-anchor="middle" font-family="Liberation Sans" font-weight="700" font-style="italic" font-size="8.6" fill="#f6f6f6" transform="scale(1.12 1) translate(-0.8 0)">W</text></svg>
<div class="t m" style="left:293.50px;top:283.50px;font-size:8.2px;color:#ececee;font-weight:400;letter-spacing:-0.65px;">W</div>
<div class="t m" style="left:329.70px;top:283.50px;font-size:8.2px;color:#ececee;font-weight:400;letter-spacing:-0.2px;">$0.3</div>
<div class="t" style="left:366.70px;top:282.93px;font-size:8.35px;color:#37b67c;font-weight:400;letter-spacing:0px;">5.17%</div>
<svg style="position:absolute;left:393.70px;top:283.90px;" width="5.8" height="5.8" viewBox="0 0 5.8 5.8"><path d="M0.8 5.0 L5.0 0.8 M1.8 0.8 H5.0 V4.0" fill="none" stroke="#37b67c" stroke-width="1.05"/></svg>
<svg style="position:absolute;left:429.50px;top:281.40px;" width="9.2" height="10.8" viewBox="0 0 9.2 10.8"><path d="M1.5 1.5 H7.7 V9.3 L4.6 6.808000000000001 L1.5 9.3 Z" fill="none" stroke="#85858b" stroke-width="0.95" stroke-linejoin="round"/></svg>
<div style="position:absolute;left:276.50px;top:298.20px;width:168.50px;height:0.70px;background:#242428"></div>
<svg style="position:absolute;left:276.20px;top:303.90px;" width="13" height="13" viewBox="0 0 13 13"><circle cx="6.5" cy="6.5" r="6.5" fill="#e8ef6a"/><rect x="3.8" y="3.8" width="5.4" height="5.4" rx="1.1" fill="none" stroke="#202012" stroke-width="1.35"/><rect x="8.3" y="5.4" width="1.8" height="2.2" fill="#e8ef6a"/></svg>
<div class="t m" style="left:293.50px;top:307.50px;font-size:8.2px;color:#ececee;font-weight:400;letter-spacing:-0.65px;">CELO</div>
<div class="t m" style="left:329.70px;top:307.50px;font-size:8.2px;color:#ececee;font-weight:400;letter-spacing:-0.2px;">$0.68</div>
<div class="t" style="left:366.70px;top:306.93px;font-size:8.35px;color:#37b67c;font-weight:400;letter-spacing:0px;">5.98%</div>
<svg style="position:absolute;left:393.70px;top:307.90px;" width="5.8" height="5.8" viewBox="0 0 5.8 5.8"><path d="M0.8 5.0 L5.0 0.8 M1.8 0.8 H5.0 V4.0" fill="none" stroke="#37b67c" stroke-width="1.05"/></svg>
<svg style="position:absolute;left:429.50px;top:305.40px;" width="9.2" height="10.8" viewBox="0 0 9.2 10.8"><path d="M1.5 1.5 H7.7 V9.3 L4.6 6.808000000000001 L1.5 9.3 Z" fill="none" stroke="#85858b" stroke-width="0.95" stroke-linejoin="round"/></svg>
<div style="position:absolute;left:276.50px;top:322.20px;width:168.50px;height:0.70px;background:#242428"></div>
<svg style="position:absolute;left:276.20px;top:327.90px;" width="13" height="13" viewBox="0 0 13 13"><circle cx="6.5" cy="6.5" r="6.5" fill="#e8413c"/><text x="6.5" y="7.8" text-anchor="middle" font-family="Liberation Sans" font-weight="700" font-size="3.9" fill="#ffd8d4" transform="scale(1.05 1)">UMA</text></svg>
<div class="t m" style="left:293.50px;top:331.50px;font-size:8.2px;color:#ececee;font-weight:400;letter-spacing:-0.65px;">UMA</div>
<div class="t m" style="left:329.70px;top:331.50px;font-size:8.2px;color:#ececee;font-weight:400;letter-spacing:-0.2px;">$2.75</div>
<div class="t" style="left:366.70px;top:330.93px;font-size:8.35px;color:#37b67c;font-weight:400;letter-spacing:0px;">4.4%</div>
<svg style="position:absolute;left:388.90px;top:331.90px;" width="5.8" height="5.8" viewBox="0 0 5.8 5.8"><path d="M0.8 5.0 L5.0 0.8 M1.8 0.8 H5.0 V4.0" fill="none" stroke="#37b67c" stroke-width="1.05"/></svg>
<svg style="position:absolute;left:429.50px;top:329.40px;" width="9.2" height="10.8" viewBox="0 0 9.2 10.8"><path d="M1.5 1.5 H7.7 V9.3 L4.6 6.808000000000001 L1.5 9.3 Z" fill="none" stroke="#85858b" stroke-width="0.95" stroke-linejoin="round"/></svg>
<div style="position:absolute;left:466.00px;top:242.50px;width:194.50px;height:111.00px;background:#222225;border-radius:10px"></div>
<div class="t" style="left:479.00px;top:254.20px;font-size:9px;color:#9c9ca2;font-weight:400;letter-spacing:0px;">Тренд</div>
<svg style="position:absolute;left:509.40px;top:253.20px;" width="10.4" height="10.4" viewBox="0 0 10.4 10.4"><circle cx="5.2" cy="5.2" r="4.2" fill="#9c9ca2"/><rect x="4.65" y="4.5" width="1.1" height="3.99" fill="#4a4a50"/><circle cx="5.2" cy="3.2" r="0.6" fill="#5a5a60"/></svg>
<svg style="position:absolute;left:533.80px;top:254.70px;" width="6.2" height="7.2" viewBox="0 0 6.2 7.2"><path d="M1.8 1.5 L3.9000000000000004 3.6 L1.8 5.7" fill="none" stroke="#f0f0f0" stroke-width="1.25" stroke-linecap="round" stroke-linejoin="round"/></svg>
<div style="position:absolute;left:479.00px;top:275.00px;width:168.50px;height:0.80px;background:#2c2c30"></div>
<svg style="position:absolute;left:478.70px;top:279.90px;" width="13" height="13" viewBox="0 0 13 13"><circle cx="6.5" cy="6.5" r="6.3" fill="#ececee"/><circle cx="4.5" cy="4.1" r="1.05" fill="#151517"/><circle cx="8.5" cy="4.1" r="1.05" fill="#151517"/><circle cx="4.5" cy="8.9" r="1.05" fill="#151517"/><circle cx="8.5" cy="8.9" r="1.05" fill="#151517"/><circle cx="2.6" cy="6.5" r="1.0" fill="#151517"/><circle cx="10.4" cy="6.5" r="1.0" fill="#151517"/><circle cx="6.5" cy="6.5" r="0.85" fill="#151517"/></svg>
<div class="t m" style="left:496.00px;top:283.50px;font-size:8.2px;color:#ececee;font-weight:400;letter-spacing:-0.65px;">FET</div>
<div class="t m" style="left:532.20px;top:283.50px;font-size:8.2px;color:#ececee;font-weight:400;letter-spacing:-0.2px;">$1.49</div>
<div class="t" style="left:573.80px;top:282.93px;font-size:8.35px;color:#d62d48;font-weight:400;letter-spacing:0px;">-2.78%</div>
<svg style="position:absolute;left:603.70px;top:283.90px;" width="5.8" height="5.8" viewBox="0 0 5.8 5.8"><path d="M0.8 0.8 L5.0 5.0 M5.0 1.8 V5.0 H1.8" fill="none" stroke="#d62d48" stroke-width="1.05"/></svg>
<svg style="position:absolute;left:632.00px;top:281.40px;" width="9.2" height="10.8" viewBox="0 0 9.2 10.8"><path d="M1.5 1.5 H7.7 V9.3 L4.6 6.808000000000001 L1.5 9.3 Z" fill="none" stroke="#85858b" stroke-width="0.95" stroke-linejoin="round"/></svg>
<div style="position:absolute;left:479.00px;top:298.20px;width:168.50px;height:0.70px;background:#242428"></div>
<svg style="position:absolute;left:478.70px;top:303.90px;" width="13" height="13" viewBox="0 0 13 13"><circle cx="6.5" cy="6.5" r="6.5" fill="#e8ef6a"/><rect x="3.8" y="3.8" width="5.4" height="5.4" rx="1.1" fill="none" stroke="#202012" stroke-width="1.35"/><rect x="8.3" y="5.4" width="1.8" height="2.2" fill="#e8ef6a"/></svg>
<div class="t m" style="left:496.00px;top:307.50px;font-size:8.2px;color:#ececee;font-weight:400;letter-spacing:-0.65px;">CELO</div>
<div class="t m" style="left:532.20px;top:307.50px;font-size:8.2px;color:#ececee;font-weight:400;letter-spacing:-0.2px;">$0.68</div>
<div class="t" style="left:573.80px;top:306.93px;font-size:8.35px;color:#37b67c;font-weight:400;letter-spacing:0px;">5.98%</div>
<svg style="position:absolute;left:600.80px;top:307.90px;" width="5.8" height="5.8" viewBox="0 0 5.8 5.8"><path d="M0.8 5.0 L5.0 0.8 M1.8 0.8 H5.0 V4.0" fill="none" stroke="#37b67c" stroke-width="1.05"/></svg>
<svg style="position:absolute;left:632.00px;top:305.40px;" width="9.2" height="10.8" viewBox="0 0 9.2 10.8"><path d="M1.5 1.5 H7.7 V9.3 L4.6 6.808000000000001 L1.5 9.3 Z" fill="none" stroke="#85858b" stroke-width="0.95" stroke-linejoin="round"/></svg>
<div style="position:absolute;left:479.00px;top:322.20px;width:168.50px;height:0.70px;background:#242428"></div>
<svg style="position:absolute;left:478.70px;top:327.90px;" width="13" height="13" viewBox="0 0 13 13"><defs><radialGradient id="hg" cx="40%" cy="35%" r="70%"><stop offset="0" stop-color="#f6cf86"/><stop offset="1" stop-color="#b87a2a"/></radialGradient></defs><circle cx="6.5" cy="6.7" r="5.4" fill="url(#hg)"/></svg>
<div class="t m" style="left:496.00px;top:331.50px;font-size:8.2px;color:#ececee;font-weight:400;letter-spacing:-0.65px;">HMSTR</div>
<div class="t m" style="left:532.20px;top:331.50px;font-size:8.2px;color:#ececee;font-weight:400;letter-spacing:-0.2px;">$0.0047</div>
<div class="t" style="left:573.80px;top:330.93px;font-size:8.35px;color:#d62d48;font-weight:400;letter-spacing:0px;">-13.99%</div>
<svg style="position:absolute;left:607.80px;top:331.90px;" width="5.8" height="5.8" viewBox="0 0 5.8 5.8"><path d="M0.8 0.8 L5.0 5.0 M5.0 1.8 V5.0 H1.8" fill="none" stroke="#d62d48" stroke-width="1.05"/></svg>
<svg style="position:absolute;left:632.00px;top:329.40px;" width="9.2" height="10.8" viewBox="0 0 9.2 10.8"><path d="M1.5 1.5 H7.7 V9.3 L4.6 6.808000000000001 L1.5 9.3 Z" fill="none" stroke="#85858b" stroke-width="0.95" stroke-linejoin="round"/></svg>
<div style="position:absolute;left:668.50px;top:242.50px;width:194.50px;height:111.00px;background:#222225;border-radius:10px"></div>
<div class="t" style="left:681.50px;top:254.20px;font-size:9px;color:#9c9ca2;font-weight:400;letter-spacing:0px;">Перспективы</div>
<svg style="position:absolute;left:742.00px;top:253.20px;" width="10.4" height="10.4" viewBox="0 0 10.4 10.4"><circle cx="5.2" cy="5.2" r="4.2" fill="#9c9ca2"/><rect x="4.65" y="4.5" width="1.1" height="3.99" fill="#4a4a50"/><circle cx="5.2" cy="3.2" r="0.6" fill="#5a5a60"/></svg>
<svg style="position:absolute;left:766.40px;top:254.70px;" width="6.2" height="7.2" viewBox="0 0 6.2 7.2"><path d="M1.8 1.5 L3.9000000000000004 3.6 L1.8 5.7" fill="none" stroke="#f0f0f0" stroke-width="1.25" stroke-linecap="round" stroke-linejoin="round"/></svg>
<div style="position:absolute;left:681.50px;top:275.00px;width:168.50px;height:0.80px;background:#2c2c30"></div>
<svg style="position:absolute;left:681.20px;top:279.90px;" width="13" height="13" viewBox="0 0 13 13"><circle cx="6.5" cy="6.5" r="6.3" fill="#ececee"/><circle cx="4.5" cy="4.1" r="1.05" fill="#151517"/><circle cx="8.5" cy="4.1" r="1.05" fill="#151517"/><circle cx="4.5" cy="8.9" r="1.05" fill="#151517"/><circle cx="8.5" cy="8.9" r="1.05" fill="#151517"/><circle cx="2.6" cy="6.5" r="1.0" fill="#151517"/><circle cx="10.4" cy="6.5" r="1.0" fill="#151517"/><circle cx="6.5" cy="6.5" r="0.85" fill="#151517"/></svg>
<div class="t m" style="left:698.50px;top:283.50px;font-size:8.2px;color:#ececee;font-weight:400;letter-spacing:-0.65px;">FET</div>
<div class="t m" style="left:734.70px;top:283.50px;font-size:8.2px;color:#ececee;font-weight:400;letter-spacing:-0.2px;">$1.49</div>
<div class="t" style="left:771.70px;top:282.93px;font-size:8.35px;color:#d62d48;font-weight:400;letter-spacing:0px;">-2.78%</div>
<svg style="position:absolute;left:801.60px;top:283.90px;" width="5.8" height="5.8" viewBox="0 0 5.8 5.8"><path d="M0.8 0.8 L5.0 5.0 M5.0 1.8 V5.0 H1.8" fill="none" stroke="#d62d48" stroke-width="1.05"/></svg>
<svg style="position:absolute;left:834.50px;top:281.40px;" width="9.2" height="10.8" viewBox="0 0 9.2 10.8"><path d="M1.5 1.5 H7.7 V9.3 L4.6 6.808000000000001 L1.5 9.3 Z" fill="none" stroke="#85858b" stroke-width="0.95" stroke-linejoin="round"/></svg>
<div style="position:absolute;left:681.50px;top:298.20px;width:168.50px;height:0.70px;background:#242428"></div>
<svg style="position:absolute;left:681.20px;top:303.90px;" width="13" height="13" viewBox="0 0 13 13"><circle cx="6.5" cy="6.5" r="6.5" fill="#e8ef6a"/><rect x="3.8" y="3.8" width="5.4" height="5.4" rx="1.1" fill="none" stroke="#202012" stroke-width="1.35"/><rect x="8.3" y="5.4" width="1.8" height="2.2" fill="#e8ef6a"/></svg>
<div class="t m" style="left:698.50px;top:307.50px;font-size:8.2px;color:#ececee;font-weight:400;letter-spacing:-0.65px;">CELO</div>
<div class="t m" style="left:734.70px;top:307.50px;font-size:8.2px;color:#ececee;font-weight:400;letter-spacing:-0.2px;">$0.68</div>
<div class="t" style="left:771.70px;top:306.93px;font-size:8.35px;color:#37b67c;font-weight:400;letter-spacing:0px;">5.98%</div>
<svg style="position:absolute;left:798.70px;top:307.90px;" width="5.8" height="5.8" viewBox="0 0 5.8 5.8"><path d="M0.8 5.0 L5.0 0.8 M1.8 0.8 H5.0 V4.0" fill="none" stroke="#37b67c" stroke-width="1.05"/></svg>
<svg style="position:absolute;left:834.50px;top:305.40px;" width="9.2" height="10.8" viewBox="0 0 9.2 10.8"><path d="M1.5 1.5 H7.7 V9.3 L4.6 6.808000000000001 L1.5 9.3 Z" fill="none" stroke="#85858b" stroke-width="0.95" stroke-linejoin="round"/></svg>
<div style="position:absolute;left:681.50px;top:322.20px;width:168.50px;height:0.70px;background:#242428"></div>
<svg style="position:absolute;left:681.20px;top:327.90px;" width="13" height="13" viewBox="0 0 13 13"><circle cx="6.5" cy="6.5" r="6.5" fill="#e8413c"/><text x="6.5" y="7.8" text-anchor="middle" font-family="Liberation Sans" font-weight="700" font-size="3.9" fill="#ffd8d4" transform="scale(1.05 1)">UMA</text></svg>
<div class="t m" style="left:698.50px;top:331.50px;font-size:8.2px;color:#ececee;font-weight:400;letter-spacing:-0.65px;">UMA</div>
<div class="t m" style="left:734.70px;top:331.50px;font-size:8.2px;color:#ececee;font-weight:400;letter-spacing:-0.2px;">$2.75</div>
<div class="t" style="left:771.70px;top:330.93px;font-size:8.35px;color:#37b67c;font-weight:400;letter-spacing:0px;">4.4%</div>
<svg style="position:absolute;left:793.90px;top:331.90px;" width="5.8" height="5.8" viewBox="0 0 5.8 5.8"><path d="M0.8 5.0 L5.0 0.8 M1.8 0.8 H5.0 V4.0" fill="none" stroke="#37b67c" stroke-width="1.05"/></svg>
<svg style="position:absolute;left:834.50px;top:329.40px;" width="9.2" height="10.8" viewBox="0 0 9.2 10.8"><path d="M1.5 1.5 H7.7 V9.3 L4.6 6.808000000000001 L1.5 9.3 Z" fill="none" stroke="#85858b" stroke-width="0.95" stroke-linejoin="round"/></svg>
<div style="position:absolute;left:61.00px;top:369.80px;width:553.60px;height:80.00px;background:#222225;border-radius:10px"></div>
<div style="position:absolute;left:628.70px;top:369.80px;width:234.30px;height:80.00px;background:#222225;border-radius:10px"></div>
<svg style="position:absolute;left:77.50px;top:383.00px;" width="15.5" height="16" viewBox="0 0 15.5 16"><defs><linearGradient id="ib77" x1="0" y1="0" x2="0" y2="1"><stop offset="0" stop-color="#6a6a6e"/><stop offset="1" stop-color="#3c3c40"/></linearGradient></defs><rect x="0.5" y="0.5" width="14.5" height="15" rx="2.8" fill="url(#ib77)" stroke="#a4a4a8" stroke-width="1.15"/><path d="M3.5 11.5 L6.5 8.5 L8 10 L11.5 6" fill="none" stroke="#f2f2f2" stroke-width="1.5"/><path d="M9 5.5 H12 V8.5" fill="none" stroke="#f2f2f2" stroke-width="1.3"/></svg>
<div class="t m" style="left:102.30px;top:386.95px;font-size:8.9px;color:#e8e8ea;font-weight:400;letter-spacing:-0.05px;">Лидеры роста</div>
<svg style="position:absolute;left:166.60px;top:385.50px;" width="10.6" height="10.6" viewBox="0 0 10.6 10.6"><circle cx="5.3" cy="5.3" r="4.3" fill="#9c9ca2"/><rect x="4.75" y="4.6" width="1.1" height="4.08" fill="#4a4a50"/><circle cx="5.3" cy="3.3" r="0.6" fill="#5a5a60"/></svg>
<div style="position:absolute;left:581.00px;top:379.00px;width:21.40px;height:21.50px;background:#d9640f;border-radius:3.5px"></div>
<svg style="position:absolute;left:588.60px;top:386.10px;" width="6.4" height="7.4" viewBox="0 0 6.4 7.4"><path d="M1.9000000000000001 1.5 L4.1000000000000005 3.7 L1.9000000000000001 5.9" fill="none" stroke="#fbe8d8" stroke-width="1.3" stroke-linecap="round" stroke-linejoin="round"/></svg>
<div style="position:absolute;left:526.30px;top:415.40px;width:75.70px;height:20.00px;border:1px solid #3a3a3e;border-radius:4px;box-sizing:border-box"></div>
<div style="position:absolute;left:527.30px;top:416.40px;width:23.00px;height:19.00px;background:#151518;border-radius:3px 0 0 0"></div>
<div style="position:absolute;left:550.30px;top:416.00px;width:0.90px;height:12.00px;background:#3a3a3e"></div>
<div style="position:absolute;left:576.20px;top:416.00px;width:0.90px;height:12.00px;background:#3a3a3e"></div>
<div class="t" style="left:532.50px;top:423.00px;font-size:8px;color:#f4f4f4;font-weight:700;letter-spacing:0px;">1Д</div>
<div class="t" style="left:558.00px;top:423.00px;font-size:8px;color:#707076;font-weight:700;letter-spacing:0px;">7Д</div>
<div class="t" style="left:583.50px;top:423.00px;font-size:8px;color:#707076;font-weight:700;letter-spacing:0px;">1M</div>
<div class="t" style="left:76.60px;top:424.05px;font-size:8.5px;color:#d0d0d4;font-weight:400;letter-spacing:0px;">№</div>
<svg style="position:absolute;left:88.10px;top:422.70px;" width="9.6" height="9.6" viewBox="0 0 9.6 9.6"><circle cx="4.8" cy="4.8" r="3.8" fill="#9c9ca2"/><rect x="4.25" y="4.1" width="1.1" height="3.61" fill="#4a4a50"/><circle cx="4.8" cy="2.8" r="0.6" fill="#5a5a60"/></svg>
<div class="t" style="left:113.90px;top:424.05px;font-size:8.5px;color:#d0d0d4;font-weight:400;letter-spacing:0px;">Пара</div>
<svg style="position:absolute;left:133.00px;top:422.30px;" width="11" height="11" viewBox="0 0 11 11"><circle cx="5.5" cy="5.5" r="4.5" fill="#9c9ca2"/><rect x="4.95" y="4.8" width="1.1" height="4.27" fill="#4a4a50"/><circle cx="5.5" cy="3.5" r="0.6" fill="#5a5a60"/></svg>
<div class="t" style="left:158.30px;top:423.65px;font-size:9.3px;color:#d0d0d4;font-weight:400;letter-spacing:0px;">Цена</div>
<svg style="position:absolute;left:181.30px;top:422.30px;" width="11" height="11" viewBox="0 0 11 11"><circle cx="5.5" cy="5.5" r="4.5" fill="#9c9ca2"/><rect x="4.95" y="4.8" width="1.1" height="4.27" fill="#4a4a50"/><circle cx="5.5" cy="3.5" r="0.6" fill="#5a5a60"/></svg>
<svg style="position:absolute;left:645.00px;top:382.80px;" width="15.5" height="16" viewBox="0 0 15.5 16"><defs><linearGradient id="ib645" x1="0" y1="0" x2="0" y2="1"><stop offset="0" stop-color="#6a6a6e"/><stop offset="1" stop-color="#3c3c40"/></linearGradient></defs><rect x="0.5" y="0.5" width="14.5" height="15" rx="2.8" fill="url(#ib645)" stroke="#a4a4a8" stroke-width="1.15"/><circle cx="7.9" cy="8.1" r="3.5" fill="#e4e4e4"/><circle cx="7.9" cy="8.1" r="1.2" fill="#9a9a9e"/><path d="M3 12 L12.5 4" stroke="#bbb" stroke-width="0.6"/></svg>
<div class="t m" style="left:669.60px;top:387.10px;font-size:9px;color:#e8e8ea;font-weight:400;letter-spacing:-0.05px;">Влияние новостей</div>
<svg style="position:absolute;left:752.60px;top:385.60px;" width="10.4" height="10.4" viewBox="0 0 10.4 10.4"><circle cx="5.2" cy="5.2" r="4.2" fill="#9c9ca2"/><rect x="4.65" y="4.5" width="1.1" height="3.99" fill="#4a4a50"/><circle cx="5.2" cy="3.2" r="0.6" fill="#5a5a60"/></svg>
<div style="position:absolute;left:827.60px;top:379.00px;width:21.60px;height:21.50px;background:#d9640f;border-radius:3.5px"></div>
<svg style="position:absolute;left:835.20px;top:386.10px;" width="6.4" height="7.4" viewBox="0 0 6.4 7.4"><path d="M1.9000000000000001 1.5 L4.1000000000000005 3.7 L1.9000000000000001 5.9" fill="none" stroke="#fbe8d8" stroke-width="1.3" stroke-linecap="round" stroke-linejoin="round"/></svg>
<div class="t" style="left:642.50px;top:425.40px;font-size:7.2px;color:#a8a8ac;font-weight:400;letter-spacing:0px;">Новости</div>
<div class="t" style="left:682.00px;top:424.30px;font-size:9px;color:#f0f0f2;font-weight:700;letter-spacing:0px;">Бирж</div>
</body></html>
